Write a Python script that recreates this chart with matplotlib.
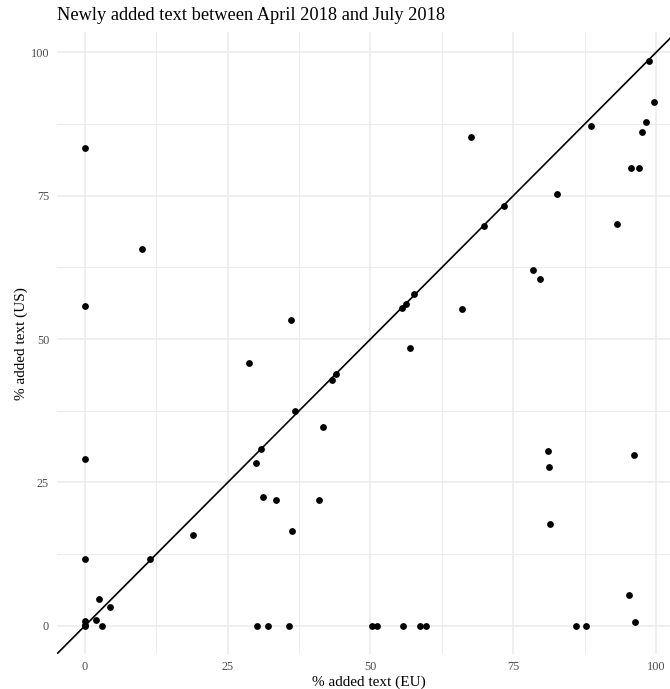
import matplotlib.pyplot as plt
from matplotlib.ticker import MultipleLocator

plt.rcParams['font.family'] = ['Liberation Serif', 'DejaVu Serif']

# % added text, EU vs US
eu = [0, 0, 0, 0, 0, 0, 0,
      10.0, 28.8, 36.1, 57.7, 56.3, 55.6, 57.0, 43.9, 43.2, 36.8, 41.7,
      30.8, 29.9, 31.2, 33.4, 40.9, 36.2,
      30.1, 32.0, 35.8, 50.3, 51.2, 55.7, 58.6, 59.8, 86.0, 87.7,
      67.6, 88.6, 98.3, 97.6, 95.6, 97.0, 82.7, 73.4, 69.8, 93.2, 78.5,
      79.6, 66.1, 98.8, 99.7,
      81.0, 81.2, 96.1, 81.5, 95.2, 96.4,
      11.4, 18.9, 2.4, 4.4, 1.9, 3.0]
us = [83.4, 55.8, 29.1, 11.7, 0.9, 0.2, 0,
      65.7, 45.8, 53.4, 57.8, 56.2, 55.5, 48.4, 43.9, 42.9, 37.4, 34.7,
      30.9, 28.4, 22.5, 22.0, 21.9, 16.5,
      0, 0, 0, 0, 0, 0, 0, 0, 0, 0,
      85.3, 87.1, 87.9, 86.2, 79.9, 79.9, 75.3, 73.2, 69.8, 70.0, 62.0,
      60.4, 55.2, 98.5, 91.4,
      30.5, 27.7, 29.8, 17.7, 5.35, 0.6,
      11.6, 15.8, 4.6, 3.2, 1.0, 0]

fig = plt.figure(figsize=(6.7, 6.89), dpi=100)
ax = fig.add_axes([56.5 / 670, 35 / 689, 1 - 56.5 / 670, (654 - 32.4) / 689])

ax.axline((0, 0), slope=1, color='black', linewidth=1.2, zorder=2)
ax.scatter(eu, us, s=24, color='black', linewidths=0, zorder=3)

ax.set_xlim(-4.985, 102.45)
ax.set_ylim(-4.93, 103.5)

ax.xaxis.set_major_locator(MultipleLocator(25))
ax.yaxis.set_major_locator(MultipleLocator(25))
ax.xaxis.set_minor_locator(MultipleLocator(12.5))
ax.yaxis.set_minor_locator(MultipleLocator(12.5))
ax.grid(which='major', color='#EBEBEB', linewidth=1.1, zorder=0)
ax.grid(which='minor', color='#EBEBEB', linewidth=0.7, zorder=0)
ax.set_axisbelow(True)

for s in ax.spines.values():
    s.set_visible(False)
ax.tick_params(which='both', length=0, labelsize=8.8, labelcolor='#4D4D4D')
ax.tick_params(axis='x', pad=5)
ax.tick_params(axis='y', pad=5.4)

ax.set_xlabel('% added text (EU)', fontsize=11, labelpad=2)
ax.set_ylabel('% added text (US)', fontsize=11, labelpad=2)
# panel is cut off on the right, title is centred on the full panel
ax.xaxis.label.set_x(0.509)

fig.text(57 / 670, 1 - 16 / 689, 'Newly added text between April 2018 and July 2018',
         fontsize=13.2, ha='left', va='center')

fig.savefig('out.png', dpi=100)
